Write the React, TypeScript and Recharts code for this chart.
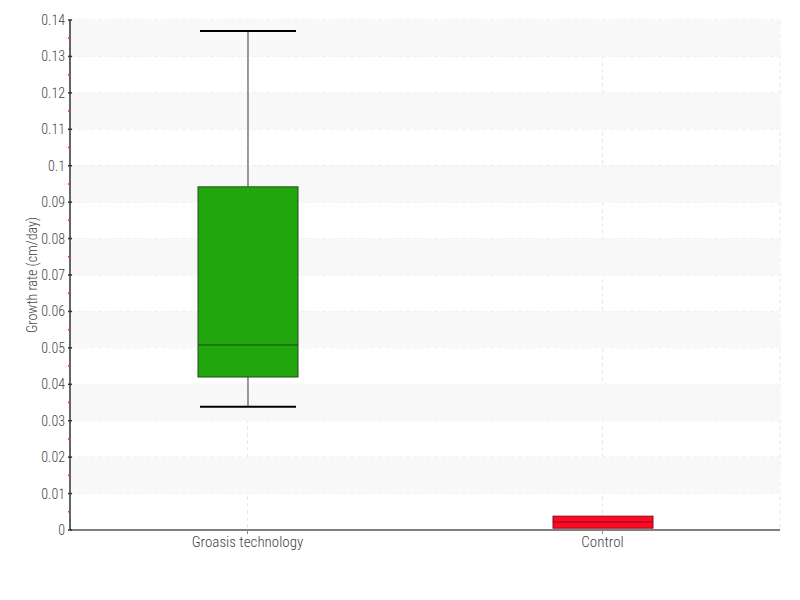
import React from 'react';
import {
  ComposedChart, Bar, XAxis, YAxis, CartesianGrid, ReferenceArea, Label,
} from 'recharts';

const categories = ['Groasis technology', 'Control'];
const mins = [0.0338, 0.0005];
const q1s = [0.042, 0.0005];
const medians = [0.0508, 0.0022];
const q3s = [0.0942, 0.0038];
const maxs = [0.137, 0.0038];
const fills = ['#22a60e', '#ff0a26'];
const strokes = ['#1f4d17', '#8a0a14'];

const majorTicks = [0, 0.01, 0.02, 0.03, 0.04, 0.05, 0.06, 0.07, 0.08, 0.09, 0.1, 0.11, 0.12, 0.13, 0.14];
const majorLabels = ['0', '0.01', '0.02', '0.03', '0.04', '0.05', '0.06', '0.07', '0.08', '0.09', '0.1', '0.11', '0.12', '0.13', '0.14'];
const minorTicks = [0.005, 0.015, 0.025, 0.035, 0.045, 0.055, 0.065, 0.075, 0.085, 0.095, 0.105, 0.115, 0.125, 0.135];
const bandStarts = [0.01, 0.03, 0.05, 0.07, 0.09, 0.11, 0.13];
const bandEnds = [0.02, 0.04, 0.06, 0.08, 0.1, 0.12, 0.14];

const data = categories.map((name, i) => ({
  name,
  min: mins[i],
  q1: q1s[i],
  median: medians[i],
  q3: q3s[i],
  max: maxs[i],
  fill: fills[i],
  stroke: strokes[i],
  range: [mins[i], maxs[i]],
}));

const allTicks = [...majorTicks, ...minorTicks].sort((a, b) => a - b);

const FONT = 'Roboto, sans-serif';
const textStyle: React.CSSProperties = { fontFamily: FONT, fontStretch: 'condensed', fontWeight: 300 };

const YTick = (props: any) => {
  const { x, y, payload } = props;
  const v = payload.value;
  const idx = majorTicks.findIndex((t) => Math.abs(t - v) < 1e-9);
  if (idx >= 0) {
    return (
      <g>
        <line x1={x - 2} x2={x + 2} y1={y} y2={y} stroke="#333" strokeWidth={1.5} />
        <text x={x - 5} y={y} dy={5} textAnchor="end" fill="#444" fontSize={14} style={textStyle}>
          {majorLabels[idx]}
        </text>
      </g>
    );
  }
  return <line x1={x - 2} x2={x} y1={y} y2={y} stroke="#ff2a2a" strokeWidth={1.5} />;
};

const XTick = (props: any) => {
  const { x, y, payload } = props;
  return (
    <text x={x} y={y} dy={11} textAnchor="middle" fill="#444" fontSize={15} style={textStyle}>
      {payload.value}
    </text>
  );
};

const BoxShape = (props: any) => {
  const { x, y, width, height, payload } = props;
  const top = Math.min(y, y + height);
  const bottom = Math.max(y, y + height);
  const span = payload.max - payload.min;
  const k = span > 0 ? (bottom - top) / span : 0;
  const pix = (v: number) => bottom - (v - payload.min) * k;
  const cx = x + width / 2;
  const yq1 = pix(payload.q1);
  const yq3 = pix(payload.q3);
  const ymed = pix(payload.median);
  const ymin = pix(payload.min);
  const ymax = pix(payload.max);
  const hasWhiskers = payload.min < payload.q1 || payload.max > payload.q3;
  return (
    <g>
      {hasWhiskers && (
        <>
          <line x1={cx} x2={cx} y1={ymax} y2={yq3} stroke="#666" strokeWidth={1.3} />
          <line x1={cx} x2={cx} y1={yq1} y2={ymin} stroke="#666" strokeWidth={1.3} />
          <line x1={x + 2} x2={x + width - 2} y1={ymax} y2={ymax} stroke="#000" strokeWidth={2} />
          <line x1={x + 2} x2={x + width - 2} y1={ymin} y2={ymin} stroke="#000" strokeWidth={2} />
        </>
      )}
      <rect x={x} y={yq3} width={width} height={yq1 - yq3} fill={payload.fill} stroke={payload.stroke} strokeWidth={1} />
      <line x1={x} x2={x + width} y1={ymed} y2={ymed} stroke={payload.stroke} strokeWidth={1} />
    </g>
  );
};

export default function App() {
  return (
    <div style={{ position: 'absolute', left: 0, top: 0, width: 800, height: 600, background: '#fff' }}>
      <ComposedChart width={800} height={600} data={data} margin={{ top: 20, right: 20, left: 0, bottom: 40 }}>
        {bandStarts.map((s, i) => (
          <ReferenceArea key={'b' + i} y1={s} y2={bandEnds[i]} fill="#f8f8f8" fillOpacity={1} stroke="none" ifOverflow="hidden" />
        ))}
        <CartesianGrid
          stroke="#e8e8e8"
          strokeDasharray="4 3"
          horizontalValues={majorTicks.slice(1)}
        />
        <XAxis
          dataKey="name"
          height={30}
          axisLine={{ stroke: '#000', strokeWidth: 1.2 }}
          tickLine={{ stroke: '#888' }}
          tickSize={4}
          tick={<XTick />}
        />
        <YAxis
          type="number"
          domain={[0, 0.14]}
          ticks={allTicks}
          interval={0}
          width={70}
          tickLine={false}
          tickSize={0}
          tickMargin={0}
          axisLine={{ stroke: '#000', strokeWidth: 1.2 }}
          tick={<YTick />}
        >
          <Label
            value="Growth rate (cm/day)"
            angle={-90}
            position="center"
            dx={-3}
            style={{ fill: '#444', fontSize: 14, ...textStyle }}
          />
        </YAxis>
        <Bar dataKey="range" barSize={100} shape={<BoxShape />} isAnimationActive={false} />
      </ComposedChart>
    </div>
  );
}
